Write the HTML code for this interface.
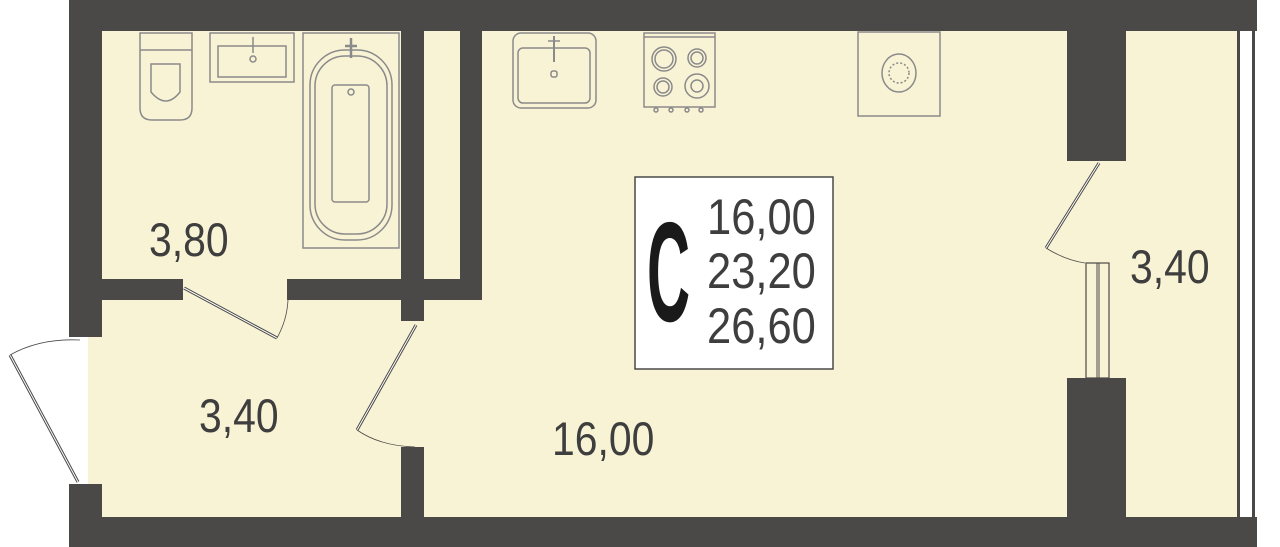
<!DOCTYPE html>
<html><head><meta charset="utf-8"><style>
html,body{margin:0;padding:0;background:#fff;}
svg{display:block}
text{font-family:"Liberation Sans",sans-serif;}
</style></head><body>
<svg width="1280" height="547" viewBox="0 0 1280 547" xmlns="http://www.w3.org/2000/svg">
<rect x="88" y="30" width="1150" height="488" fill="#f9f3d6"/>
<rect x="1240" y="30" width="12" height="488" fill="#fff"/>
<rect x="1237" y="30" width="3" height="488" fill="#4a4948"/>
<rect x="1252" y="30" width="3" height="488" fill="#4a4948"/>
<g fill="#4a4948">
<rect x="69" y="0" width="1188" height="31"/>
<rect x="69" y="517" width="1188" height="30"/>
<rect x="69" y="0" width="33" height="337"/>
<rect x="69" y="484" width="33" height="63"/>
<rect x="401" y="30" width="23" height="291"/>
<rect x="460" y="30" width="22" height="270"/>
<rect x="102" y="279" width="81" height="21"/>
<rect x="287" y="279" width="195" height="21"/>
<rect x="401" y="447" width="23" height="72"/>
<rect x="1067" y="30" width="59" height="131"/>
<rect x="1067" y="378" width="59" height="140"/>
</g>
<rect x="1086" y="263" width="23" height="115" fill="#f9f3d6" stroke="#4a4948" stroke-width="1.2"/>
<line x1="1097" y1="263" x2="1097" y2="378" stroke="#4a4948" stroke-width="1"/>
<line x1="1099" y1="263" x2="1099" y2="378" stroke="#4a4948" stroke-width="1"/>
<g stroke="#4a4948" fill="none">
<line x1="184" y1="288" x2="277" y2="338" stroke-width="3"/>
<line x1="184" y1="288" x2="277" y2="338" stroke="#fff" stroke-width="1"/>
<path d="M277 338 Q287 320 288 300" stroke-width="0.8"/>
<line x1="416" y1="325" x2="357" y2="430" stroke-width="3"/>
<line x1="416" y1="325" x2="357" y2="430" stroke="#fff" stroke-width="1"/>
<path d="M357 430 Q380 446 415 447" stroke-width="0.8"/>
<line x1="78" y1="482" x2="10" y2="355" stroke-width="3"/>
<line x1="78" y1="482" x2="10" y2="355" stroke="#fff" stroke-width="1"/>
<path d="M10 355 Q40 338 80 340" stroke-width="0.8"/>
<line x1="1099" y1="163" x2="1046" y2="248" stroke-width="3"/>
<line x1="1099" y1="163" x2="1046" y2="248" stroke="#fff" stroke-width="1"/>
<path d="M1046 248 Q1065 260 1085 263" stroke-width="0.8"/>
</g>
<g stroke="#8a8a8a" fill="none" stroke-width="1.5">
<path d="M140 33 H192 V108 Q192 120 180 120 H152 Q140 120 140 108 Z"/>
<line x1="140" y1="50" x2="192" y2="50"/>
<path d="M151 64 H180 V92 Q166 110 151 92 Z"/>
<rect x="210" y="33" width="84" height="49"/>
<rect x="218" y="46" width="68" height="31"/>
<circle cx="253" cy="59" r="3"/>
<line x1="253" y1="37" x2="253" y2="53"/>
<rect x="303" y="33" width="96" height="215"/>
<rect x="310" y="50" width="82" height="190" rx="35"/>
<rect x="315" y="56" width="72" height="178" rx="30"/>
<rect x="332" y="85" width="37" height="117" rx="3"/>
<circle cx="351" cy="92" r="3"/>
<line x1="351" y1="38" x2="351" y2="58" stroke-width="2.5"/>
<line x1="345" y1="46" x2="357" y2="46" stroke-width="2.5"/>
<rect x="513" y="33" width="83" height="75" rx="8"/>
<rect x="518" y="48" width="72" height="55" rx="5"/>
<rect x="551" y="71" width="6" height="6" rx="2"/>
<line x1="554" y1="36" x2="554" y2="62" stroke-width="2"/>
<line x1="548" y1="41" x2="560" y2="41"/>
<rect x="644" y="33" width="71" height="74"/>
<line x1="644" y1="37" x2="715" y2="37"/>
<circle cx="664" cy="59" r="12"/><circle cx="664" cy="59" r="9"/>
<circle cx="697" cy="58" r="9"/><circle cx="697" cy="58" r="6"/>
<circle cx="663" cy="87" r="9"/><circle cx="663" cy="87" r="6"/>
<circle cx="697" cy="86" r="12"/><circle cx="697" cy="86" r="6"/>
<circle cx="656" cy="110" r="2"/><circle cx="671" cy="110" r="2"/><circle cx="687" cy="110" r="2"/><circle cx="701" cy="110" r="2"/>
<rect x="858" y="32" width="82" height="84"/>
<ellipse cx="899" cy="73" rx="17" ry="19"/>
<circle cx="899" cy="73" r="10" stroke-dasharray="2 2"/>
</g>
<rect x="635" y="177" width="198" height="192" fill="#fff" stroke="#4a4948" stroke-width="1.5"/>
<text transform="translate(647 321) scale(0.42 1)" font-size="142" font-weight="bold" fill="#1a1a1a">C</text>
<g fill="#3e3e3e" font-size="50">
<text transform="translate(707 234) scale(0.87 1)">16,00</text>
<text transform="translate(707 288) scale(0.87 1)">23,20</text>
<text transform="translate(707 343) scale(0.87 1)">26,60</text>
</g>
<g fill="#3e3e3e" font-size="47">
<text transform="translate(149 256) scale(0.87 1)">3,80</text>
<text transform="translate(199 432) scale(0.87 1)">3,40</text>
<text transform="translate(552 455) scale(0.87 1)">16,00</text>
<text transform="translate(1130 283) scale(0.87 1)">3,40</text>
</g>
</svg>
</body></html>
